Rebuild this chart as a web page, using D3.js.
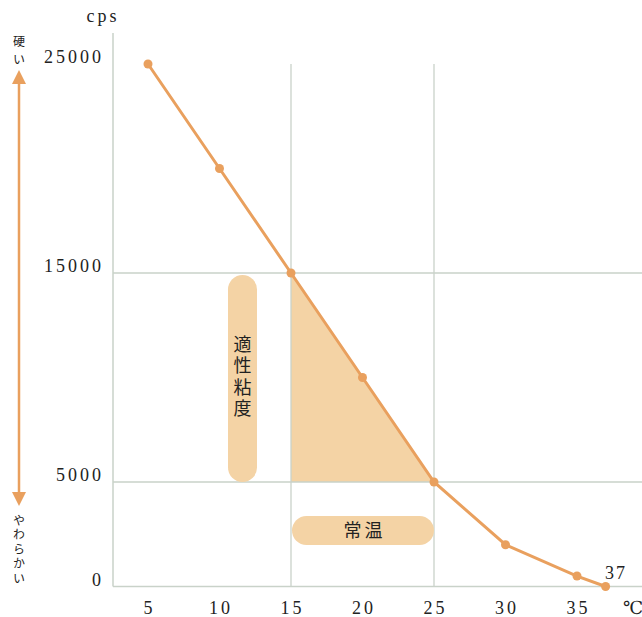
<!DOCTYPE html>
<html><head><meta charset="utf-8">
<script src="https://cdn.jsdelivr.net/npm/d3@7"></script>
<style>
html,body{margin:0;padding:0;background:#fff;}
svg{display:block;}
</style></head>
<body>
<svg id="c" width="642" height="617"></svg>
<script>
const temps = [5, 10, 15, 20, 25, 30, 35, 37];
const viscosity = [25000, 20000, 15000, 10000, 5000, 2000, 500, 0];
const xTicks = [5, 10, 15, 20, 25, 30, 35];
const yTicks = [0, 5000, 15000, 25000];
const xGrid = [15, 25];
const yGrid = [5000, 15000];
const roomTemp = [15, 25];
const suitableVisc = [5000, 15000];

const svg = d3.select("#c");
const x = d3.scaleLinear().domain([15, 25]).range([291, 434]);
const y = d3.scaleLinear().domain([0, 25000]).range([586.5, 64]);

const lineCol = "#E9A05E", fillCol = "#F4D3A5", gridCol = "#C9D2C9";
const serif = "'Liberation Serif','DejaVu Serif',serif";
const jp = "'Noto Sans CJK JP',sans-serif";

// triangle fill
const tri = [[15, 15000], [25, 5000], [15, 5000]];
svg.append("path")
  .attr("d", d3.line().x(d => x(d[0])).y(d => y(d[1]))(tri) + "Z")
  .attr("fill", fillCol);

// grid
const gx0 = 113, gx1 = 642;
svg.selectAll(".hg").data(yGrid).join("line")
  .attr("x1", gx0).attr("x2", gx1).attr("y1", d => y(d)).attr("y2", d => y(d))
  .attr("stroke", gridCol).attr("stroke-width", 1.3);
svg.selectAll(".vg").data(xGrid).join("line")
  .attr("x1", d => x(d)).attr("x2", d => x(d)).attr("y1", 64).attr("y2", y(0))
  .attr("stroke", gridCol).attr("stroke-width", 1.3);
// axes
svg.append("line").attr("x1", gx0).attr("x2", gx0).attr("y1", 33).attr("y2", y(0))
  .attr("stroke", gridCol).attr("stroke-width", 1.5);
svg.append("line").attr("x1", gx0).attr("x2", gx1).attr("y1", y(0)).attr("y2", y(0))
  .attr("stroke", gridCol).attr("stroke-width", 1.5);

// tick labels
svg.selectAll(".yt").data(yTicks).join("text")
  .attr("x", 104).attr("y", d => y(d) - 1)
  .attr("text-anchor", "end").attr("font-family", serif).attr("font-size", 18)
  .attr("letter-spacing", 3).attr("fill", "#222").text(d => d);
svg.selectAll(".xt").data(xTicks).join("text")
  .attr("x", d => x(d) + 1.5).attr("y", 614)
  .attr("text-anchor", "middle").attr("font-family", serif).attr("font-size", 18)
  .attr("letter-spacing", 3).attr("fill", "#222").text(d => d);
svg.append("text").attr("x", 103).attr("y", 22).attr("text-anchor", "middle")
  .attr("font-family", serif).attr("font-size", 18).attr("letter-spacing", 3)
  .attr("fill", "#222").text("cps");
svg.append("text").attr("x", 633).attr("y", 614).attr("text-anchor", "middle")
  .attr("font-family", serif).attr("font-size", 18).attr("fill", "#222").text("℃");

// pills
svg.append("rect").attr("x", 228).attr("y", y(suitableVisc[1]) + 2).attr("width", 29)
  .attr("height", y(suitableVisc[0]) - y(suitableVisc[1]) - 2).attr("rx", 14.5)
  .attr("fill", fillCol);
svg.append("rect").attr("x", x(roomTemp[0]) + 1).attr("y", 516)
  .attr("width", x(roomTemp[1]) - x(roomTemp[0]) - 1).attr("height", 29).attr("rx", 14.5)
  .attr("fill", fillCol);

function vtext(str, cx, y0, size, ls) {
  svg.append("text").attr("x", cx).attr("y", y0)
    .style("writing-mode", "vertical-rl").style("text-orientation", "upright")
    .attr("font-family", jp).attr("font-size", size).attr("letter-spacing", ls)
    .attr("fill", "#222").text(str);
}
vtext("適性粘度", 242.5, 335, 18, 3.5);
svg.append("text").attr("x", (x(roomTemp[0]) + x(roomTemp[1])) / 2 + 2).attr("y", 537)
  .attr("text-anchor", "middle").attr("font-family", jp).attr("font-size", 18)
  .attr("letter-spacing", 3).attr("fill", "#222").text("常温");

// line & points
svg.append("path")
  .attr("d", d3.line().x((d, i) => x(temps[i])).y(d => y(d))(viscosity))
  .attr("fill", "none").attr("stroke", lineCol).attr("stroke-width", 3);
svg.selectAll(".pt").data(viscosity).join("circle")
  .attr("cx", (d, i) => x(temps[i])).attr("cy", d => y(d)).attr("r", 4.5)
  .attr("fill", lineCol);
svg.append("text").attr("x", 616).attr("y", 579).attr("text-anchor", "middle")
  .attr("font-family", serif).attr("font-size", 18).attr("letter-spacing", 2)
  .attr("fill", "#222").text(temps[temps.length - 1]);

// left arrow
svg.append("line").attr("x1", 19).attr("x2", 19).attr("y1", 82).attr("y2", 495)
  .attr("stroke", lineCol).attr("stroke-width", 2.5);
svg.append("path").attr("d", "M19,70 L12,84 L26,84 Z").attr("fill", lineCol);
svg.append("path").attr("d", "M19,506 L12,492 L26,492 Z").attr("fill", lineCol);
vtext("硬い", 19, 35, 12, 6);
vtext("やわらかい", 19, 514, 12, 2.5);
</script>
</body></html>
